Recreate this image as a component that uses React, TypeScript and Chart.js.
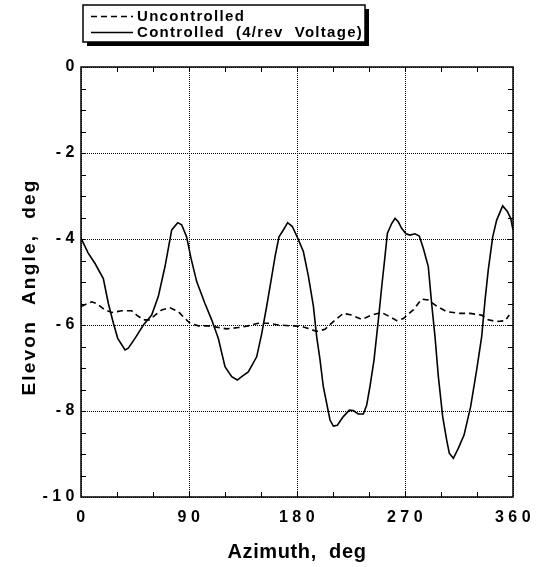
import React, { useEffect, useRef } from "react";
import { Chart, registerables } from "chart.js";

Chart.register(...registerables);

// ---- data ----
const ctrlAz = [0, 6, 11.7, 18.6, 22.8, 27, 30.6, 36.7, 39.4, 45, 52, 58.9, 64.4, 70, 75.6, 80.6, 83.9, 88, 91.7, 96.4, 103.3, 108.9, 114.4, 120, 125.6, 130.3, 133.9, 139.4, 146.4, 150.6, 154.7, 158.9, 161.7, 165, 168.6, 172.2, 176.1, 180.6, 185.3, 189.4, 193.6, 196.4, 199.2, 201.9, 207.5, 210.3, 213.6, 218.6, 223.6, 226.9, 231, 235.3, 238.1, 240.8, 244.2, 247.8, 250.6, 253.3, 255.3, 258.9, 261.7, 264.4, 267.2, 270.8, 274.2, 278.3, 281.9, 285.3, 289.4, 292.2, 295, 297.8, 301.4, 304.7, 306.9, 310.3, 314.4, 319.2, 324.7, 329.7, 333.9, 336.7, 339.4, 343.1, 346.4, 351.4, 355.3, 358.1, 360];
const ctrlAngle = [-3.98, -4.33, -4.57, -4.92, -5.5, -5.96, -6.31, -6.58, -6.54, -6.31, -6.0, -5.77, -5.34, -4.64, -3.79, -3.62, -3.67, -3.95, -4.45, -4.99, -5.5, -5.88, -6.31, -6.97, -7.2, -7.28, -7.2, -7.09, -6.74, -6.2, -5.57, -4.88, -4.41, -3.95, -3.79, -3.62, -3.71, -3.98, -4.29, -4.85, -5.55, -6.27, -6.81, -7.43, -8.21, -8.35, -8.33, -8.13, -7.98, -7.99, -8.07, -8.07, -7.86, -7.43, -6.81, -5.88, -5.11, -4.41, -3.87, -3.64, -3.52, -3.6, -3.75, -3.88, -3.91, -3.88, -3.93, -4.22, -4.64, -5.5, -6.27, -7.2, -8.13, -8.67, -8.98, -9.1, -8.87, -8.56, -7.9, -7.05, -6.27, -5.42, -4.72, -3.95, -3.56, -3.23, -3.36, -3.52, -3.79];

const uncAz = [0, 8.9, 13, 20, 25.6, 33.9, 42.2, 46.4, 52, 57.5, 61.7, 67.2, 74.2, 81.1, 85.3, 90.8, 97.8, 105.8, 113, 121.4, 131, 139.4, 147.8, 156.1, 164.4, 175.6, 183.9, 189.4, 196.4, 203.3, 210.3, 218.6, 225.6, 233.9, 242.2, 250.6, 257.5, 263.1, 268.6, 276.9, 283.9, 289.4, 296.4, 304.7, 315.8, 324.2, 333.9, 339.4, 346.4, 353.3, 356.9];
const uncAngle = [-5.57, -5.46, -5.5, -5.65, -5.71, -5.67, -5.67, -5.77, -5.88, -5.88, -5.77, -5.65, -5.6, -5.69, -5.81, -5.96, -6.02, -6.02, -6.05, -6.09, -6.06, -6.02, -5.96, -5.96, -6.0, -6.02, -6.03, -6.08, -6.15, -6.1, -5.92, -5.73, -5.77, -5.87, -5.77, -5.71, -5.81, -5.9, -5.85, -5.65, -5.4, -5.42, -5.56, -5.69, -5.73, -5.73, -5.77, -5.88, -5.92, -5.9, -5.77];

const seriesLabels = ["Uncontrolled", "Controlled  (4/rev  Voltage)"];
const xTitle = "Azimuth,  deg";
const yTitle = "Elevon  Angle,  deg";
const xMin = 0, xMax = 360, xMajor = 90, xMinor = 30;
const yMin = -10, yMax = 0, yMajor = 2, yMinor = 0.5;

const FONT = '"Liberation Sans", Arial, Helvetica, sans-serif';

const decorPlugin = {
  id: "decor",
  beforeDraw(chart: any) {
    chart.ctx.letterSpacing = "4.5px";
  },
  beforeDatasetsDraw(chart: any) {
    chart.ctx.letterSpacing = "0px";
  },
  afterDraw(chart: any) {
    const ctx = chart.ctx;
    const a = chart.chartArea;
    const xs = chart.scales.x;
    const ys = chart.scales.y;
    ctx.save();
    ctx.letterSpacing = "0px";
    ctx.setLineDash([]);
    ctx.strokeStyle = "#000";
    // frame
    ctx.lineWidth = 1.5;
    ctx.strokeRect(a.left, a.top, a.right - a.left, a.bottom - a.top);
    // minor ticks, inward, on all sides
    ctx.lineWidth = 1;
    const tl = 5;
    ctx.beginPath();
    for (let v = xMin + xMinor; v < xMax; v += xMinor) {
      const px = Math.round(xs.getPixelForValue(v)) + 0.5;
      ctx.moveTo(px, a.bottom); ctx.lineTo(px, a.bottom - tl);
      ctx.moveTo(px, a.top); ctx.lineTo(px, a.top + tl);
    }
    for (let v = yMin + yMinor; v < yMax - 1e-9; v += yMinor) {
      const py = Math.round(ys.getPixelForValue(v)) + 0.5;
      ctx.moveTo(a.left, py); ctx.lineTo(a.left + tl, py);
      ctx.moveTo(a.right, py); ctx.lineTo(a.right - tl, py);
    }
    ctx.stroke();

    // axis titles
    ctx.fillStyle = "#000";
    ctx.font = `bold 20px ${FONT}`;
    ctx.letterSpacing = "0.6px";
    ctx.textAlign = "center";
    ctx.textBaseline = "alphabetic";
    ctx.fillText(xTitle, (a.left + a.right) / 2, 558);
    ctx.save();
    ctx.translate(35, 287);
    ctx.rotate(-Math.PI / 2);
    ctx.font = `bold 19px ${FONT}`;
    ctx.letterSpacing = "2.2px";
    ctx.fillText(yTitle, 0, 0);
    ctx.restore();

    // legend box with shadow
    const bx = 83, by = 5, bw = 282, bh = 37, sh = 4;
    ctx.letterSpacing = "0px";
    ctx.fillStyle = "#000";
    ctx.fillRect(bx + sh, by + sh, bw, bh);
    ctx.fillStyle = "#fff";
    ctx.fillRect(bx, by, bw, bh);
    ctx.lineWidth = 1.5;
    ctx.strokeRect(bx, by, bw, bh);
    const rows = [16, 32];
    chart.data.datasets.forEach((ds: any, i: number) => {
      ctx.lineWidth = 1.3;
      ctx.setLineDash(ds.borderDash || []);
      ctx.beginPath();
      ctx.moveTo(91, rows[i] + 0.5);
      ctx.lineTo(133, rows[i] + 0.5);
      ctx.stroke();
      ctx.setLineDash([]);
      ctx.fillStyle = "#000";
      ctx.font = `bold 15px ${FONT}`;
      ctx.letterSpacing = "1.3px";
      ctx.textAlign = "left";
      ctx.fillText(ds.label, 137, rows[i] + 5);
    });
    ctx.restore();
  },
};

export default function App() {
  const ref = useRef<HTMLCanvasElement>(null);
  useEffect(() => {
    document.body.style.margin = "0";
    const ctrl = ctrlAz.map((x, i) => ({ x, y: ctrlAngle[i] }));
    const unc = uncAz.map((x, i) => ({ x, y: uncAngle[i] }));
    const chart = new Chart(ref.current!, {
      type: "line",
      data: {
        datasets: [
          {
            label: seriesLabels[0],
            data: unc,
            borderColor: "#000",
            borderWidth: 1.6,
            borderDash: [6, 4],
            pointRadius: 0,
            tension: 0,
            fill: false,
          },
          {
            label: seriesLabels[1],
            data: ctrl,
            borderColor: "#000",
            borderWidth: 1.6,
            pointRadius: 0,
            tension: 0,
            fill: false,
          },
        ],
      },
      options: {
        animation: false,
        responsive: false,
        devicePixelRatio: 1,
        layout: { padding: { left: 0, right: 30, top: 67, bottom: 0 } },
        plugins: { legend: { display: false }, tooltip: { enabled: false } },
        scales: {
          x: {
            type: "linear",
            min: xMin,
            max: xMax,
            afterFit: (s: any) => { s.height = 70; },
            ticks: {
              stepSize: xMajor,
              color: "#000",
              font: { family: FONT, size: 16, weight: "bold" },
              padding: 11,
              labelOffset: 2,
              maxRotation: 0,
            },
            grid: { color: "#000", lineWidth: 1, drawTicks: false },
            border: { display: false, dash: [1, 1] },
          },
          y: {
            type: "linear",
            min: yMin,
            max: yMax,
            afterFit: (s: any) => { s.width = 81; },
            ticks: {
              stepSize: yMajor,
              color: "#000",
              font: { family: FONT, size: 16, weight: "bold" },
              padding: 2,
            },
            grid: { color: "#000", lineWidth: 1, drawTicks: false },
            border: { display: false, dash: [1, 1] },
          },
        },
      },
      plugins: [decorPlugin],
    } as any);
    return () => chart.destroy();
  }, []);
  return (
    <div style={{ position: "fixed", left: 0, top: 0, width: 543, height: 567, background: "#fff" }}>
      <canvas ref={ref} width={543} height={567} />
    </div>
  );
}
